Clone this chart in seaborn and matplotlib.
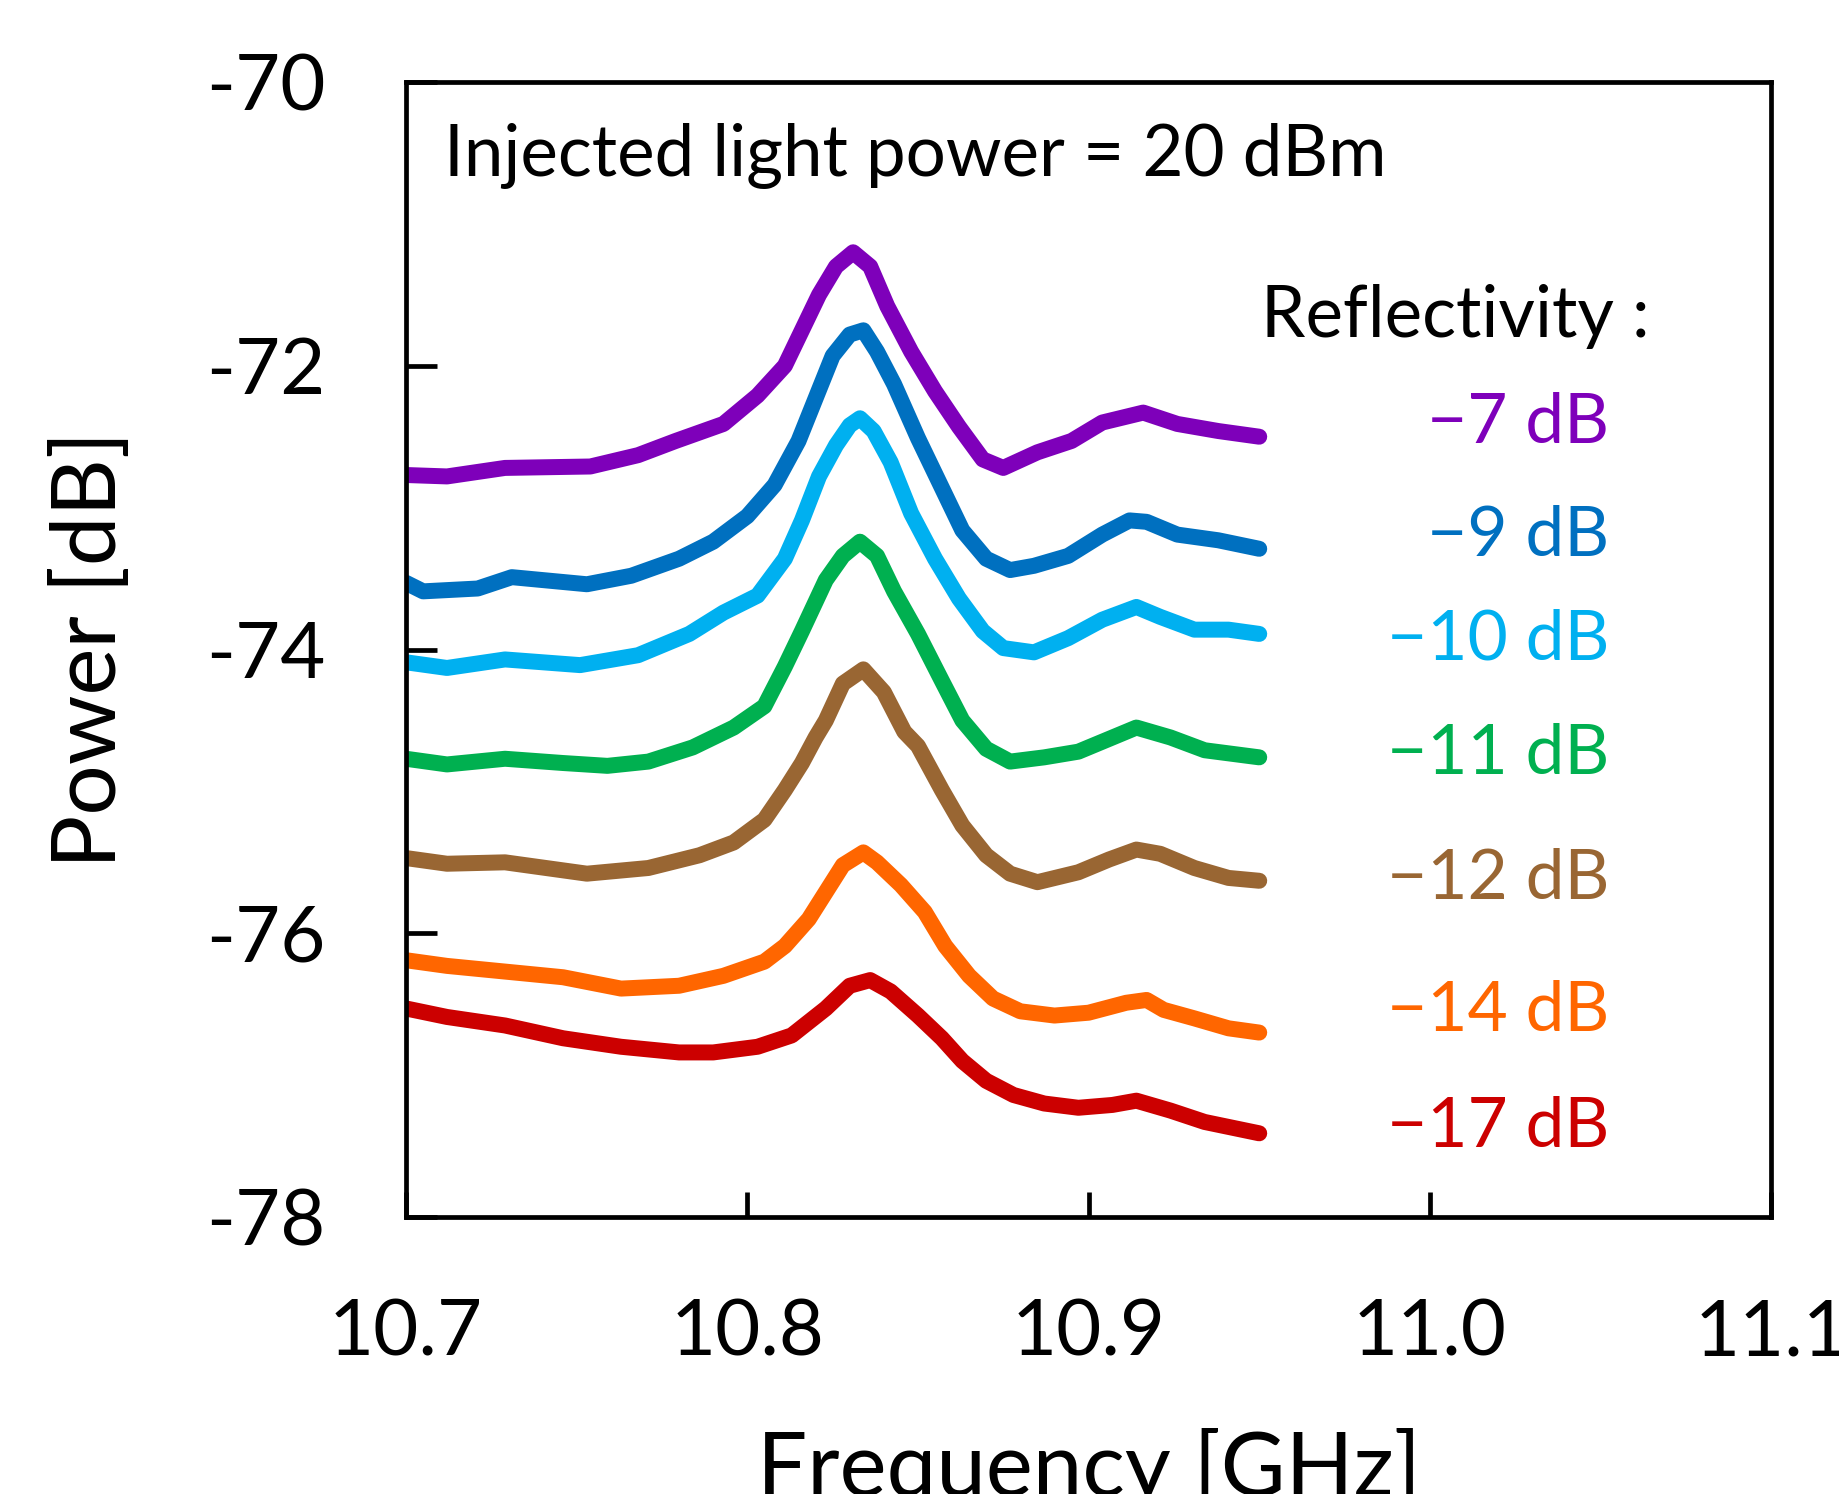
import matplotlib
matplotlib.use("Agg")
import matplotlib.pyplot as plt
import numpy as np
import pandas as pd
import seaborn as sns

# reflectivity labels and line colours
labels = ["\u22127 dB", "\u22129 dB", "\u221210 dB", "\u221211 dB", "\u221212 dB", "\u221214 dB", "\u221217 dB"]
colors = ["#7E00BA", "#0070C0", "#00B0F0", "#00B050", "#996633", "#FF6600", "#CC0000"]
label_y = [-72.41, -73.20, -73.93, -74.74, -75.62, -76.55, -77.37]

# spectra (GHz, dB)
f_7 = [10.700, 10.712, 10.729, 10.754, 10.768, 10.779, 10.793, 10.803, 10.811, 10.816, 10.821, 10.826, 10.831,
       10.836, 10.841, 10.848, 10.855, 10.862, 10.869, 10.875, 10.885, 10.895, 10.904, 10.916, 10.926, 10.938, 10.950]
p_7 = [-72.77, -72.78, -72.72, -72.71, -72.63, -72.53, -72.41, -72.21, -72.00, -71.75, -71.50, -71.30, -71.20,
       -71.30, -71.58, -71.90, -72.18, -72.43, -72.66, -72.72, -72.61, -72.53, -72.40, -72.33, -72.41, -72.46, -72.50]

f_9 = [10.700, 10.705, 10.721, 10.731, 10.753, 10.766, 10.780, 10.790, 10.800, 10.808, 10.815, 10.820, 10.825,
       10.830, 10.834, 10.838, 10.843, 10.850, 10.857, 10.863, 10.870, 10.877, 10.884, 10.894, 10.904, 10.912,
       10.917, 10.926, 10.938, 10.950]
p_9 = [-73.53, -73.59, -73.57, -73.49, -73.54, -73.48, -73.36, -73.24, -73.06, -72.84, -72.53, -72.23, -71.93,
       -71.78, -71.75, -71.90, -72.13, -72.51, -72.86, -73.16, -73.36, -73.44, -73.41, -73.34, -73.19, -73.09,
       -73.10, -73.19, -73.23, -73.29]

f_10 = [10.700, 10.712, 10.729, 10.751, 10.768, 10.783, 10.793, 10.803, 10.811, 10.816, 10.821, 10.826, 10.830,
        10.833, 10.837, 10.842, 10.848, 10.855, 10.862, 10.869, 10.875, 10.884, 10.894, 10.904, 10.914, 10.921,
        10.931, 10.941, 10.950]
p_10 = [-74.09, -74.13, -74.07, -74.11, -74.04, -73.89, -73.74, -73.62, -73.36, -73.09, -72.78, -72.56, -72.42,
        -72.37, -72.46, -72.68, -73.04, -73.36, -73.64, -73.87, -73.99, -74.02, -73.92, -73.79, -73.70, -73.77,
        -73.86, -73.86, -73.89]

f_11 = [10.700, 10.712, 10.729, 10.746, 10.759, 10.771, 10.784, 10.796, 10.805, 10.811, 10.816, 10.823, 10.828,
        10.833, 10.838, 10.843, 10.850, 10.857, 10.863, 10.870, 10.877, 10.887, 10.897, 10.906, 10.914, 10.924,
        10.934, 10.950]
p_11 = [-74.77, -74.81, -74.77, -74.80, -74.82, -74.79, -74.69, -74.55, -74.40, -74.12, -73.87, -73.51, -73.34,
        -73.24, -73.34, -73.59, -73.89, -74.22, -74.50, -74.70, -74.79, -74.76, -74.72, -74.63, -74.55, -74.62,
        -74.71, -74.76]

f_12 = [10.700, 10.712, 10.729, 10.753, 10.771, 10.786, 10.796, 10.805, 10.811, 10.816, 10.820, 10.823, 10.828,
        10.834, 10.840, 10.846, 10.850, 10.857, 10.863, 10.870, 10.877, 10.885, 10.897, 10.906, 10.914, 10.921,
        10.931, 10.941, 10.950]
p_12 = [-75.47, -75.51, -75.50, -75.58, -75.54, -75.45, -75.36, -75.20, -74.99, -74.80, -74.62, -74.50, -74.24,
        -74.14, -74.30, -74.58, -74.68, -74.99, -75.24, -75.45, -75.58, -75.64, -75.57, -75.48, -75.41, -75.44,
        -75.54, -75.61, -75.63]

f_14 = [10.700, 10.712, 10.729, 10.746, 10.763, 10.780, 10.793, 10.805, 10.811, 10.818, 10.823, 10.828, 10.834,
        10.838, 10.845, 10.852, 10.858, 10.865, 10.872, 10.880, 10.890, 10.900, 10.911, 10.917, 10.922, 10.931,
        10.941, 10.950]
p_14 = [-76.19, -76.23, -76.27, -76.31, -76.39, -76.37, -76.30, -76.20, -76.09, -75.90, -75.71, -75.52, -75.43,
        -75.50, -75.66, -75.85, -76.09, -76.30, -76.46, -76.55, -76.58, -76.56, -76.49, -76.47, -76.54, -76.60,
        -76.67, -76.70]

f_17 = [10.700, 10.712, 10.729, 10.746, 10.763, 10.780, 10.790, 10.803, 10.813, 10.823, 10.830, 10.836, 10.842,
        10.850, 10.857, 10.863, 10.870, 10.878, 10.887, 10.897, 10.907, 10.914, 10.924, 10.934, 10.950]
p_17 = [-76.53, -76.59, -76.65, -76.74, -76.80, -76.84, -76.84, -76.80, -76.72, -76.53, -76.37, -76.33, -76.41,
        -76.58, -76.74, -76.90, -77.04, -77.14, -77.20, -77.23, -77.21, -77.18, -77.25, -77.33, -77.41]

freqs = [f_7, f_9, f_10, f_11, f_12, f_14, f_17]
powers = [p_7, p_9, p_10, p_11, p_12, p_14, p_17]

df = pd.concat([pd.DataFrame({"freq": f, "power": p, "refl": lab})
                for f, p, lab in zip(freqs, powers, labels)], ignore_index=True)

sns.set_style("ticks")
plt.rcParams["font.family"] = ["Lato", "DejaVu Sans"]
plt.rcParams["axes.unicode_minus"] = False
for key in ["text.color", "axes.labelcolor", "xtick.color", "ytick.color", "axes.edgecolor"]:
    plt.rcParams[key] = "black"

fig = plt.figure(figsize=(18.39, 14.94), dpi=100)
ax = fig.add_axes([0.2208, 0.1854, 0.7423, 0.7597])

sns.lineplot(data=df, x="freq", y="power", hue="refl", palette=dict(zip(labels, colors)),
             estimator=None, sort=False, legend=False, lw=11.5, ax=ax,
             solid_capstyle="round", solid_joinstyle="round")

ax.set_xlim(10.7, 11.1)
ax.set_ylim(-78, -70)
ax.set_xticks([10.7, 10.8, 10.9, 11.0, 11.1])
ax.set_xticklabels(["10.7", "10.8", "10.9", "11.0", "11.1"])
ax.set_yticks([-78, -76, -74, -72, -70])
ax.set_yticklabels(["-78", "-76", "-74", "-72", "-70"])
ax.tick_params(axis="x", direction="in", length=18, width=3.4, labelsize=56, pad=59)
ax.tick_params(axis="y", direction="in", length=22, width=3.4, labelsize=56, pad=58)
for s in ax.spines.values():
    s.set_linewidth(3.4)

ax.set_xlabel("Frequency [GHz]", fontsize=64)
ax.set_ylabel("Power [dB]", fontsize=64)
ax.xaxis.set_label_coords(0.5, -0.186)
ax.yaxis.set_label_coords(-0.201, 0.5)

ax.text(10.711, -70.52, "Injected light power = 20 dBm", fontsize=51, va="center", ha="left")
ax.text(10.9505, -71.65, "Reflectivity :", fontsize=51, va="center", ha="left")
for lab, c, y in zip(labels, colors, label_y):
    ax.text(11.0526, y, lab, color=c, fontsize=50, va="center", ha="right")

fig.savefig("out.png", dpi=100)
